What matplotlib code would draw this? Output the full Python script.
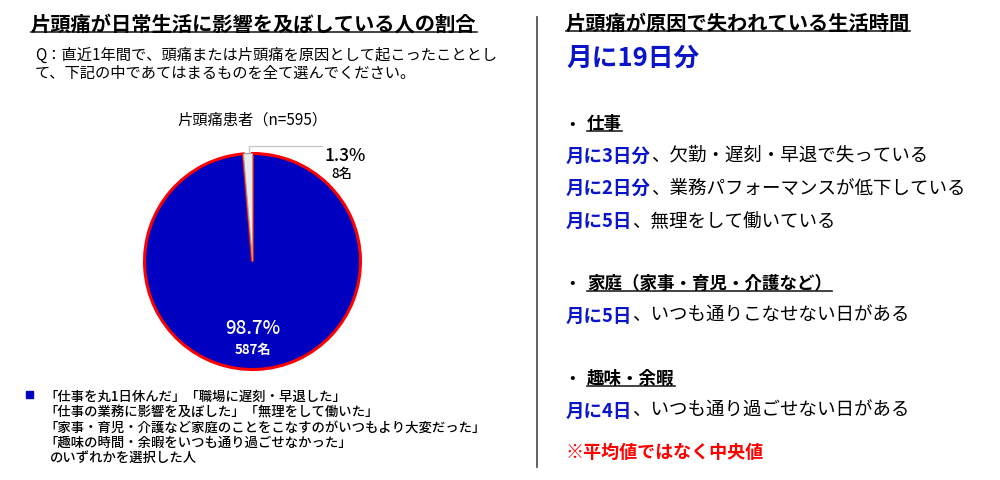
import numpy as np
import matplotlib
matplotlib.use('Agg')
import matplotlib.pyplot as plt

plt.rcParams['font.family'] = ['Noto Sans CJK JP', 'DejaVu Sans']

# data
pie_counts = [8, 587]
pie_pct = [1.3, 98.7]
pie_colors = ['#e9eded', '#0000c0']
pie_edges = ['#a0a0a0', '#ff0000']

left_title = '片頭痛が日常生活に影響を及ぼしている人の割合'
question = ['Q：直近1年間で、頭痛または片頭痛を原因として起こったこととし',
            'て、下記の中であてはまるものを全て選んでください。']
pie_title = '片頭痛患者（n=595）'
legend_lines = ['「仕事を丸1日休んだ」「職場に遅刻・早退した」',
                '「仕事の業務に影響を及ぼした」「無理をして働いた」',
                '「家事・育児・介護など家庭のことをこなすのがいつもより大変だった」',
                '「趣味の時間・余暇をいつも通り過ごせなかった」',
                'のいずれかを選択した人']

right_title = '片頭痛が原因で失われている生活時間'
total_time = '月に19日分'
groups = ['仕事', '家庭（家事・育児・介護など）', '趣味・余暇']
group_items = [
    [('月に3日分', '、欠勤・遅刻・早退で失っている'),
     ('月に2日分', '、業務パフォーマンスが低下している'),
     ('月に5日', '、無理をして働いている')],
    [('月に5日', '、いつも通りこなせない日がある')],
    [('月に4日', '、いつも通り過ごせない日がある')],
]
note = '※平均値ではなく中央値'

BLUE = '#0a14c8'

fig = plt.figure(figsize=(10, 4.81), dpi=100)
ax = fig.add_axes([0, 0, 1, 1])
ax.set_xlim(0, 1000)
ax.set_ylim(481, 0)
ax.axis('off')
renderer = fig.canvas.get_renderer()


def text_end(t):
    bb = t.get_window_extent(renderer)
    return bb.x0, bb.x1


def underline(t, y):
    x0, x1 = text_end(t)
    ax.plot([x0, x1], [y, y], color='#222222', lw=1.2)


# left panel
t = ax.text(31, 24, left_title, fontsize=14.6, fontweight='bold', va='center')
underline(t, 33)
for i, line in enumerate(question):
    ax.text(35, 55 + 18 * i, line, fontsize=11, va='center')
ax.text(252.5, 120, pie_title, fontsize=11, ha='center', va='center')

ax.add_patch(plt.Rectangle((26, 392), 7, 7, color='#0000c0'))
for i, line in enumerate(legend_lines):
    x = 44 if i < 4 else 50
    ax.text(x, 397 + 15.3 * i, line, fontsize=9.6, va='center',
            fontweight='medium')

# pie
cx, cy, r = 252.5, 262.5, 108
half = 160
pax = fig.add_axes([(cx - half) / 1000, (481 - cy - half) / 481,
                    2 * half / 1000, 2 * half / 481])
wedges, _ = pax.pie(pie_counts, colors=pie_colors, startangle=90,
                    counterclock=True,
                    wedgeprops=dict(linewidth=2.2))
for w, ec in zip(wedges, pie_edges):
    w.set_edgecolor(ec)
wedges[0].set_linewidth(0.8)
wedges[0].set_zorder(3)
lim = half / r
pax.set_xlim(-lim, lim)
pax.set_ylim(-lim, lim)
pax.axis('off')

w0 = wedges[0]
ang = np.radians(w0.theta1 + 0.35 * (w0.theta2 - w0.theta1))
lx, ly = np.cos(ang), np.sin(ang)
pax.plot([lx, lx, 0.64], [ly, 1.065, 1.065], color='#c8c8c8', lw=1.0,
         clip_on=False)
pax.text(0.67, 0.99, f'{pie_pct[0]}%', fontsize=12.5, va='center',
         ha='left', clip_on=False, fontweight='medium')
pax.text(0.83, 0.82, f'{pie_counts[0]}名', fontsize=9.5, va='center',
         ha='center', fontweight='medium')
pax.text(0, -0.61, f'{pie_pct[1]}%', fontsize=13.5, color='white',
         ha='center', va='center', fontweight='medium')
pax.text(0, -0.81, f'{pie_counts[1]}名', fontsize=9.5, color='white',
         ha='center', va='center', fontweight='bold')

# divider
ax.plot([537, 537], [18, 468], color='#555555', lw=1.3)

# right panel
t = ax.text(566, 23, right_title, fontsize=14.6, fontweight='bold', va='center')
underline(t, 32)
ax.text(566, 58, total_time, fontsize=18.5, fontweight='bold', color=BLUE,
        va='center')

group_y = [124, 284, 379]
for g, gy, items in zip(groups, group_y, group_items):
    ax.text(569, gy, '•', fontsize=12, va='center')
    t = ax.text(587, gy, g, fontsize=12.6, fontweight='bold', va='center')
    underline(t, gy + 8)
    for j, (blue, rest) in enumerate(items):
        y = gy + 32 + 32.5 * j
        tb = ax.text(566, y, blue, fontsize=13.3, fontweight='bold',
                     color=BLUE, va='center')
        x1 = text_end(tb)[1]
        ax.text(x1, y, rest, fontsize=13.3, va='center')

ax.text(566, 452, note, fontsize=13, fontweight='bold', color='#ff0000',
        va='center')

fig.savefig('out.png', dpi=100)
